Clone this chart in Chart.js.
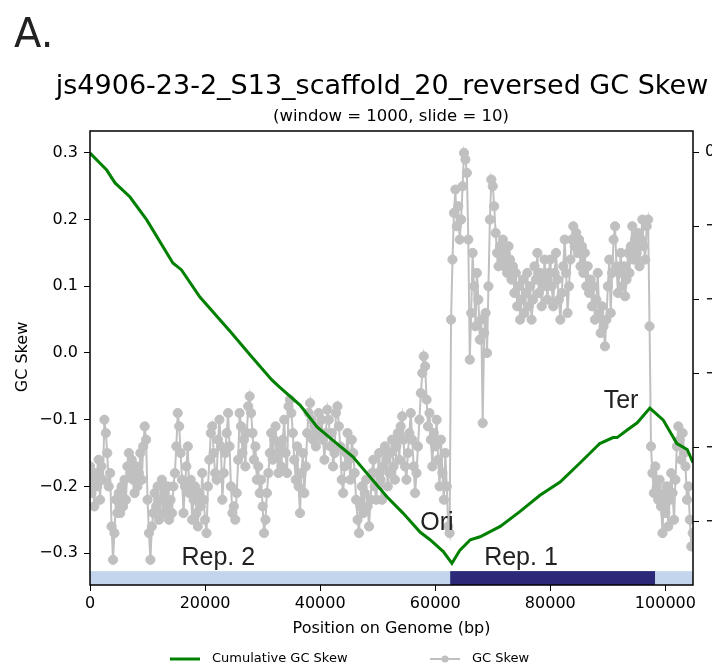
<!DOCTYPE html>
<html>
<head>
<meta charset="utf-8">
<title>GC Skew</title>
<script src="https://cdn.jsdelivr.net/npm/chart.js@4.4.1/dist/chart.umd.min.js"></script>
<style>
  html, body { margin: 0; padding: 0; background: #fff; overflow: hidden; }
  #wrap { width: 712px; height: 669px; }
</style>
</head>
<body>
<div id="wrap"><canvas id="skew-chart" width="712" height="669"></canvas></div>
<script>
// --- data ---
const skewStart = 0;      // bp of first sampled window
const skewStep = 250;     // bp between sampled windows
const gcSkew = [
  -0.17, -0.21, -0.19, -0.23, -0.18, -0.20, -0.16, -0.22, -0.17, -0.19, -0.10, -0.12, -0.15, -0.20, -0.18, -0.26, -0.31, -0.27, -0.22, -0.24,
  -0.21, -0.24, -0.20, -0.23, -0.19, -0.22, -0.17, -0.15, -0.18, -0.16, -0.19, -0.21, -0.17, -0.20, -0.18, -0.15, -0.19, -0.14, -0.11, -0.13,
  -0.22, -0.27, -0.31, -0.26, -0.24, -0.21, -0.23, -0.20, -0.25, -0.22, -0.19, -0.24, -0.21, -0.23, -0.20, -0.25, -0.22, -0.24, -0.20, -0.18,
  -0.14, -0.09, -0.11, -0.15, -0.19, -0.24, -0.20, -0.17, -0.14, -0.21, -0.19, -0.25, -0.22, -0.20, -0.24, -0.26, -0.21, -0.23, -0.18, -0.22,
  -0.25, -0.27, -0.20, -0.16, -0.12, -0.11, -0.15, -0.18, -0.19, -0.13, -0.10, -0.14, -0.22, -0.18, -0.15, -0.12, -0.09, -0.14, -0.20, -0.24,
  -0.23, -0.25, -0.21, -0.16, -0.09, -0.11, -0.15, -0.13, -0.17, -0.12, -0.08, -0.065, -0.09, -0.12, -0.16, -0.14, -0.19, -0.17, -0.21, -0.19,
  -0.23, -0.27, -0.25, -0.21, -0.18, -0.15, -0.12, -0.16, -0.13, -0.11, -0.15, -0.18, -0.14, -0.17, -0.13, -0.10, -0.15, -0.18, -0.08, -0.07,
  -0.09, -0.12, -0.16, -0.19, -0.14, -0.20, -0.24, -0.18, -0.15, -0.21, -0.17, -0.12, -0.09, -0.075, -0.10, -0.13, -0.11, -0.14, -0.12, -0.09,
  -0.12, -0.10, -0.13, -0.16, -0.12, -0.085, -0.10, -0.14, -0.12, -0.17, -0.15, -0.09, -0.08, -0.11, -0.14, -0.19, -0.21, -0.17, -0.15, -0.12,
  -0.16, -0.19, -0.13, -0.15, -0.18, -0.22, -0.25, -0.27, -0.23, -0.20, -0.24, -0.21, -0.19, -0.23, -0.26, -0.22, -0.18, -0.16, -0.20, -0.22,
  -0.18, -0.15, -0.19, -0.22, -0.17, -0.14, -0.16, -0.20, -0.18, -0.15, -0.13, -0.17, -0.19, -0.14, -0.12, -0.16, -0.11, -0.095, -0.13, -0.17,
  -0.19, -0.15, -0.12, -0.09, -0.13, -0.17, -0.21, -0.18, -0.14, -0.10, -0.06, -0.03, -0.005, -0.02, -0.07, -0.11, -0.09, -0.13, -0.17, -0.12,
  -0.14, -0.10, -0.16, -0.20, -0.13, -0.18, -0.22, -0.15, -0.20, -0.26, -0.27, 0.05, 0.14, 0.21, 0.245, 0.19, 0.22, 0.17, 0.20, 0.25,
  0.30, 0.29, 0.27, 0.17, -0.01, 0.06, 0.15, 0.10, 0.04, 0.12, 0.08, 0.02, 0.05, -0.105, 0.03, 0.06, 0.00, 0.10, 0.20, 0.26,
  0.25, 0.22, 0.18, 0.15, 0.13, 0.16, 0.14, 0.17, 0.13, 0.15, 0.12, 0.16, 0.14, 0.11, 0.13, 0.09, 0.12, 0.07, 0.10, 0.05,
  0.08, 0.11, 0.06, 0.09, 0.12, 0.07, 0.10, 0.05, 0.08, 0.13, 0.11, 0.15, 0.09, 0.12, 0.07, 0.10, 0.14, 0.11, 0.08, 0.12,
  0.14, 0.10, 0.07, 0.12, 0.15, 0.11, 0.08, 0.05, 0.09, 0.13, 0.17, 0.12, 0.06, 0.10, 0.14, 0.17, 0.19, 0.16, 0.18, 0.15,
  0.17, 0.13, 0.16, 0.12, 0.15, 0.10, 0.13, 0.09, 0.11, 0.07, 0.10, 0.05, 0.08, 0.12, 0.06, 0.03, 0.07, 0.04, 0.01, 0.05,
  0.10, 0.14, 0.06, 0.12, 0.17, 0.19, 0.13, 0.09, 0.12, 0.15, 0.10, 0.13, 0.085, 0.11, 0.15, 0.12, 0.16, 0.19, 0.14, 0.17,
  0.15, 0.18, 0.13, 0.17, 0.20, 0.16, 0.14, 0.19, 0.20, 0.04, -0.14, -0.18, -0.21, -0.17, -0.20, -0.22, -0.19, -0.23, -0.27, -0.21,
  -0.24, -0.20, -0.26, -0.22, -0.18, -0.21, -0.25, -0.19, -0.14, -0.11, -0.13, -0.16, -0.12, -0.15, -0.17, -0.22, -0.20, -0.25, -0.29, -0.27
];

const cumPositions = [
  0, 2900, 4350, 6950, 9860, 14400, 15900, 19100, 24300, 27800,
  31600, 33000, 36500, 39500, 42600, 45700, 48100, 51600, 54400, 57400,
  59100, 61400, 62900, 64300, 66100, 67800, 71300, 74700, 78200, 81700,
  85200, 88600, 90900, 91600, 93300, 95100, 97300, 99600, 102000, 103800,
  104800
];
const cumSkew = [
  -0.07, -1.22, -2.09, -3.04, -4.59, -7.50, -7.97, -9.80, -12.1, -13.7,
  -15.4, -15.9, -17.1, -18.6, -19.6, -20.6, -21.7, -23.3, -24.4, -25.7,
  -26.2, -27.0, -27.8, -26.9, -26.2, -26.0, -25.3, -24.3, -23.2, -22.3,
  -21.0, -19.7, -19.3, -19.3, -18.8, -18.3, -17.3, -18.1, -19.7, -20.1,
  -21.0
];

const genomeLength = 104800;
const oriPos = 62600;
const terPos = 98200;

const xTickValues = [0, 20000, 40000, 60000, 80000, 100000];
const skewTickValues = [-0.3, -0.2, -0.1, 0.0, 0.1, 0.2, 0.3];
const cumTickValues = [0, -5, -10, -15, -20, -25];

// --- styling ---
const FONT = '"DejaVu Sans", sans-serif';
const tickFont = { family: FONT, size: 16 };
const repBandTop = -0.327;   // in GC skew units
const bandLight = '#c2d5ed';
const bandDark = '#2c2a78';

const annotations = [
  { text: 'Ori', x: 60300, y: -0.265 },
  { text: 'Ter', x: 92300, y: -0.0825 },
  { text: 'Rep. 2', x: 22300, y: -0.318 },
  { text: 'Rep. 1', x: 74900, y: -0.318 }
];

function minus(str) { return str.replace('-', '\u2212'); }

const skewPoints = gcSkew.map((v, i) => ({ x: skewStart + i * skewStep, y: v }));
const cumPoints = cumSkew.map((v, i) => ({ x: cumPositions[i], y: v }));

const decorPlugin = {
  id: 'decor',
  beforeDatasetsDraw(chart) {
    const { ctx, chartArea: a, scales: { x, y } } = chart;
    const top = y.getPixelForValue(repBandTop);
    const xo = x.getPixelForValue(oriPos);
    const xt = x.getPixelForValue(terPos);
    const x0 = x.getPixelForValue(0);
    const x1 = x.getPixelForValue(genomeLength);
    ctx.save();
    ctx.fillStyle = bandLight;
    ctx.fillRect(x0, top, x1 - x0, a.bottom - top);
    ctx.fillStyle = bandDark;
    ctx.fillRect(xo, top, xt - xo, a.bottom - top);
    ctx.restore();
  },
  afterDraw(chart) {
    const { ctx, chartArea: a, scales: { x, y } } = chart;
    ctx.save();
    // frame
    ctx.strokeStyle = '#000';
    ctx.lineWidth = 1.5;
    ctx.strokeRect(a.left, a.top, a.right - a.left, a.bottom - a.top);

    // annotations
    ctx.fillStyle = '#222';
    ctx.font = '25px "Liberation Sans", Arial, sans-serif';
    ctx.textAlign = 'center';
    ctx.textBaseline = 'alphabetic';
    annotations.forEach(an => {
      ctx.fillText(an.text, x.getPixelForValue(an.x), y.getPixelForValue(an.y));
    });

    // panel letter, title, subtitle
    ctx.fillStyle = '#222';
    ctx.textAlign = 'left';
    ctx.font = '40px ' + FONT;
    ctx.fillText('A.', 14, 47);
    ctx.fillStyle = '#000';
    ctx.textAlign = 'center';
    ctx.font = '27px ' + FONT;
    ctx.fillText('js4906-23-2_S13_scaffold_20_reversed GC Skew', 382, 94);
    ctx.font = '16.5px ' + FONT;
    ctx.fillText('(window = 1000, slide = 10)', 391, 121);

    // axis titles
    ctx.font = '16px ' + FONT;
    ctx.fillText('Position on Genome (bp)', (a.left + a.right) / 2, 633);
    ctx.save();
    ctx.translate(23, 357);
    ctx.rotate(-Math.PI / 2);
    ctx.textBaseline = 'middle';
    ctx.fillText('GC Skew', 0, 0);
    ctx.restore();

    // legend
    const ly = 659;
    const items = [
      { ds: chart.data.datasets[0], x: 170, marker: false },
      { ds: chart.data.datasets[1], x: 430, marker: true }
    ];
    ctx.font = '13px ' + FONT;
    ctx.textAlign = 'left';
    ctx.textBaseline = 'middle';
    items.forEach(it => {
      ctx.strokeStyle = it.ds.borderColor;
      ctx.lineWidth = it.ds.borderWidth;
      ctx.beginPath();
      ctx.moveTo(it.x, ly);
      ctx.lineTo(it.x + 30, ly);
      ctx.stroke();
      if (it.marker) {
        ctx.fillStyle = it.ds.pointBackgroundColor;
        ctx.beginPath();
        ctx.arc(it.x + 15, ly, 3.6, 0, Math.PI * 2);
        ctx.fill();
      }
      ctx.fillStyle = '#000';
      ctx.fillText(it.ds.label, it.x + 42, ly);
    });
    ctx.restore();
  }
};

const gridOpts = { drawOnChartArea: false, drawTicks: true, tickLength: 6, color: '#000', lineWidth: 1 };

new Chart(document.getElementById('skew-chart'), {
  type: 'line',
  data: {
    datasets: [
      {
        label: 'Cumulative GC Skew',
        data: cumPoints,
        yAxisID: 'y2',
        borderColor: '#008000',
        backgroundColor: '#008000',
        borderWidth: 3,
        pointRadius: 0,
        tension: 0,
        order: 0
      },
      {
        label: 'GC Skew',
        data: skewPoints,
        yAxisID: 'y',
        borderColor: '#c0c0c0',
        backgroundColor: '#c0c0c0',
        pointBackgroundColor: '#c0c0c0',
        pointBorderColor: '#c0c0c0',
        pointBorderWidth: 1,
        borderWidth: 2,
        pointRadius: 4.6,
        tension: 0,
        order: 1
      }
    ]
  },
  options: {
    responsive: false,
    animation: false,
    events: [],
    layout: { padding: { top: 131, left: 0, right: 0, bottom: 0 } },
    plugins: {
      legend: { display: false },
      tooltip: { enabled: false }
    },
    scales: {
      x: {
        type: 'linear',
        position: 'bottom',
        min: 0,
        max: genomeLength,
        afterFit: s => { s.height = 84; },
        afterBuildTicks: s => { s.ticks = xTickValues.map(v => ({ value: v })); },
        ticks: { callback: v => String(v), font: tickFont, color: '#000', padding: 3, autoSkip: false, maxRotation: 0 },
        grid: gridOpts,
        border: { display: false }
      },
      y: {
        type: 'linear',
        position: 'left',
        min: -0.3478,
        max: 0.3328,
        afterFit: s => { s.width = 90; },
        afterBuildTicks: s => { s.ticks = skewTickValues.map(v => ({ value: v })); },
        ticks: { callback: v => minus(v.toFixed(1)), font: tickFont, color: '#000', padding: 6 },
        grid: gridOpts,
        border: { display: false }
      },
      y2: {
        type: 'linear',
        position: 'right',
        min: -29.26,
        max: 1.42,
        afterFit: s => { s.width = 19; },
        afterBuildTicks: s => { s.ticks = cumTickValues.map(v => ({ value: v })); },
        ticks: { callback: v => minus(String(v)), font: tickFont, color: '#000', padding: 6 },
        grid: gridOpts,
        border: { display: false }
      }
    }
  },
  plugins: [decorPlugin]
});
</script>
</body>
</html>
